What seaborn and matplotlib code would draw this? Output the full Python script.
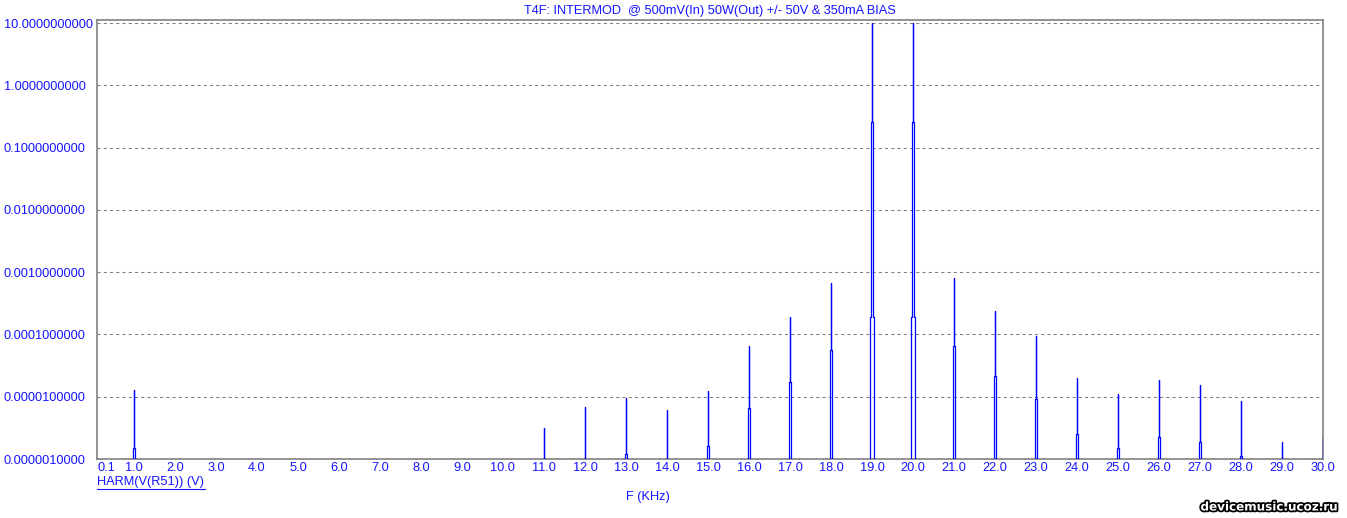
# Intermod spectrum (HARM) plot, log y scale
import numpy as np
import pandas as pd
import matplotlib
matplotlib.use('Agg')
import matplotlib.pyplot as plt
import matplotlib.patheffects as pe
import seaborn as sns

# tone frequencies (KHz)
tones = [1.0, 11.0, 12.0, 13.0, 14.0, 15.0, 16.0, 17.0, 18.0, 19.0, 20.0,
         21.0, 22.0, 23.0, 24.0, 25.0, 26.0, 27.0, 28.0, 29.0, 30.0]
# value at the tone bin
peak = [1.3e-5, 3.2e-6, 6.8e-6, 9.6e-6, 6.1e-6, 1.23e-5, 6.5e-5, 1.88e-4, 6.8e-4, 10.0, 10.0,
        8.0e-4, 2.4e-4, 9.3e-5, 2.0e-5, 1.1e-5, 1.85e-5, 1.55e-5, 8.5e-6, 1.87e-6, 2.2e-6]
# value at the neighbouring bins (+/- 1)
side1 = [1.5e-6, 1e-9, 1e-9, 1.2e-6, 1e-9, 1.6e-6, 6.7e-6, 1.7e-5, 5.7e-5, 0.26, 0.26,
         6.5e-5, 2.15e-5, 9.3e-6, 2.5e-6, 1.5e-6, 2.25e-6, 1.87e-6, 1.12e-6, 1e-9, 1e-9]
# value at the bins +/- 2 away
side2 = [1e-9, 1e-9, 1e-9, 1e-9, 1e-9, 1e-9, 1e-9, 1e-9, 1e-9, 1.9e-4, 1.9e-4,
         1e-9, 1e-9, 1e-9, 1e-9, 1e-9, 1e-9, 1e-9, 1e-9, 1e-9, 1e-9]
floor = 1e-9
w1, w2 = 0.022, 0.05  # half widths of the side bins, KHz

yticks = [1e-6, 1e-5, 1e-4, 1e-3, 1e-2, 1e-1, 1.0, 10.0]
ytick_labels = ['0.0000010000', '0.0000100000', '0.0001000000', '0.0010000000',
                '0.0100000000', '0.1000000000', '1.0000000000', '10.0000000000']
xticks = [0.1] + [float(v) for v in range(1, 31)]
xtick_labels = ['0.1'] + ['%.1f' % v for v in range(1, 31)]

# build stepped spectrum trace from the bins
fx, fy = [], []
for f, p, s1, s2 in zip(tones, peak, side1, side2):
    fx += [f - w2, f - w2, f - w1, f - w1, f, f, f, f + w1, f + w1, f + w2, f + w2]
    fy += [floor, s2, s2, s1, s1, p, s1, s1, s2, s2, floor]
spec = pd.DataFrame({'f': fx, 'v': fy})

blue = '#1414ff'
plt.rcParams['font.family'] = ['Liberation Sans', 'DejaVu Sans']

fig = plt.figure(figsize=(13.47, 5.18), dpi=100)
ax = fig.add_axes([97 / 1347, 1 - 459 / 518, (1323 - 97) / 1347, (459 - 20) / 518])

sns.lineplot(data=spec, x='f', y='v', sort=False, estimator=None, color='#0000ff',
             linewidth=0.9, ax=ax, zorder=3)

ax.set_yscale('log')
ax.set_ylim(1e-6, 11.2)
ax.set_xlim(0.1, 30.0)
ax.set_yticks(yticks)
ax.set_yticklabels(ytick_labels)
ax.minorticks_off()
ax.set_xticks(xticks)
ax.set_xticklabels(xtick_labels)
ax.set_xlabel('')
ax.set_ylabel('')

for y in yticks[1:]:
    ax.axhline(y, color='#808080', linewidth=0.75, linestyle=(0, (3, 3)), zorder=0)

for sp in ax.spines.values():
    sp.set_color('#808080')
    sp.set_linewidth(1.2)

ax.tick_params(axis='both', length=0, labelsize=9.2, labelcolor=blue)
ax.tick_params(axis='y', pad=67)
ax.tick_params(axis='x', pad=2)
for lab in ax.get_yticklabels():
    lab.set_horizontalalignment('left')
ax.get_xticklabels()[0].set_horizontalalignment('left')

fig.text(710 / 1347, 1 - 11 / 518, 'T4F: INTERMOD  @ 500mV(In) 50W(Out) +/- 50V & 350mA BIAS',
         ha='center', va='center', fontsize=9.2, color=blue)
fig.text(97 / 1347, 1 - 482 / 518, 'HARM(V(R51)) (V)', ha='left', va='center',
         fontsize=9.2, color=blue)
fig.add_artist(plt.Line2D([97 / 1347, 205 / 1347], [1 - 489 / 518, 1 - 489 / 518],
                          color=blue, linewidth=0.8))
fig.text(648 / 1347, 1 - 497 / 518, 'F (KHz)', ha='center', va='center',
         fontsize=9.2, color=blue)

wm = fig.text(1337 / 1347, 1 - 507 / 518, 'devicemusic.ucoz.ru', ha='right', va='center',
              fontsize=8.6, fontweight='bold', color='white', family='DejaVu Sans')
wm.set_path_effects([pe.Stroke(linewidth=2.5, foreground='black'), pe.Normal()])

fig.savefig('out.png', dpi=100)
